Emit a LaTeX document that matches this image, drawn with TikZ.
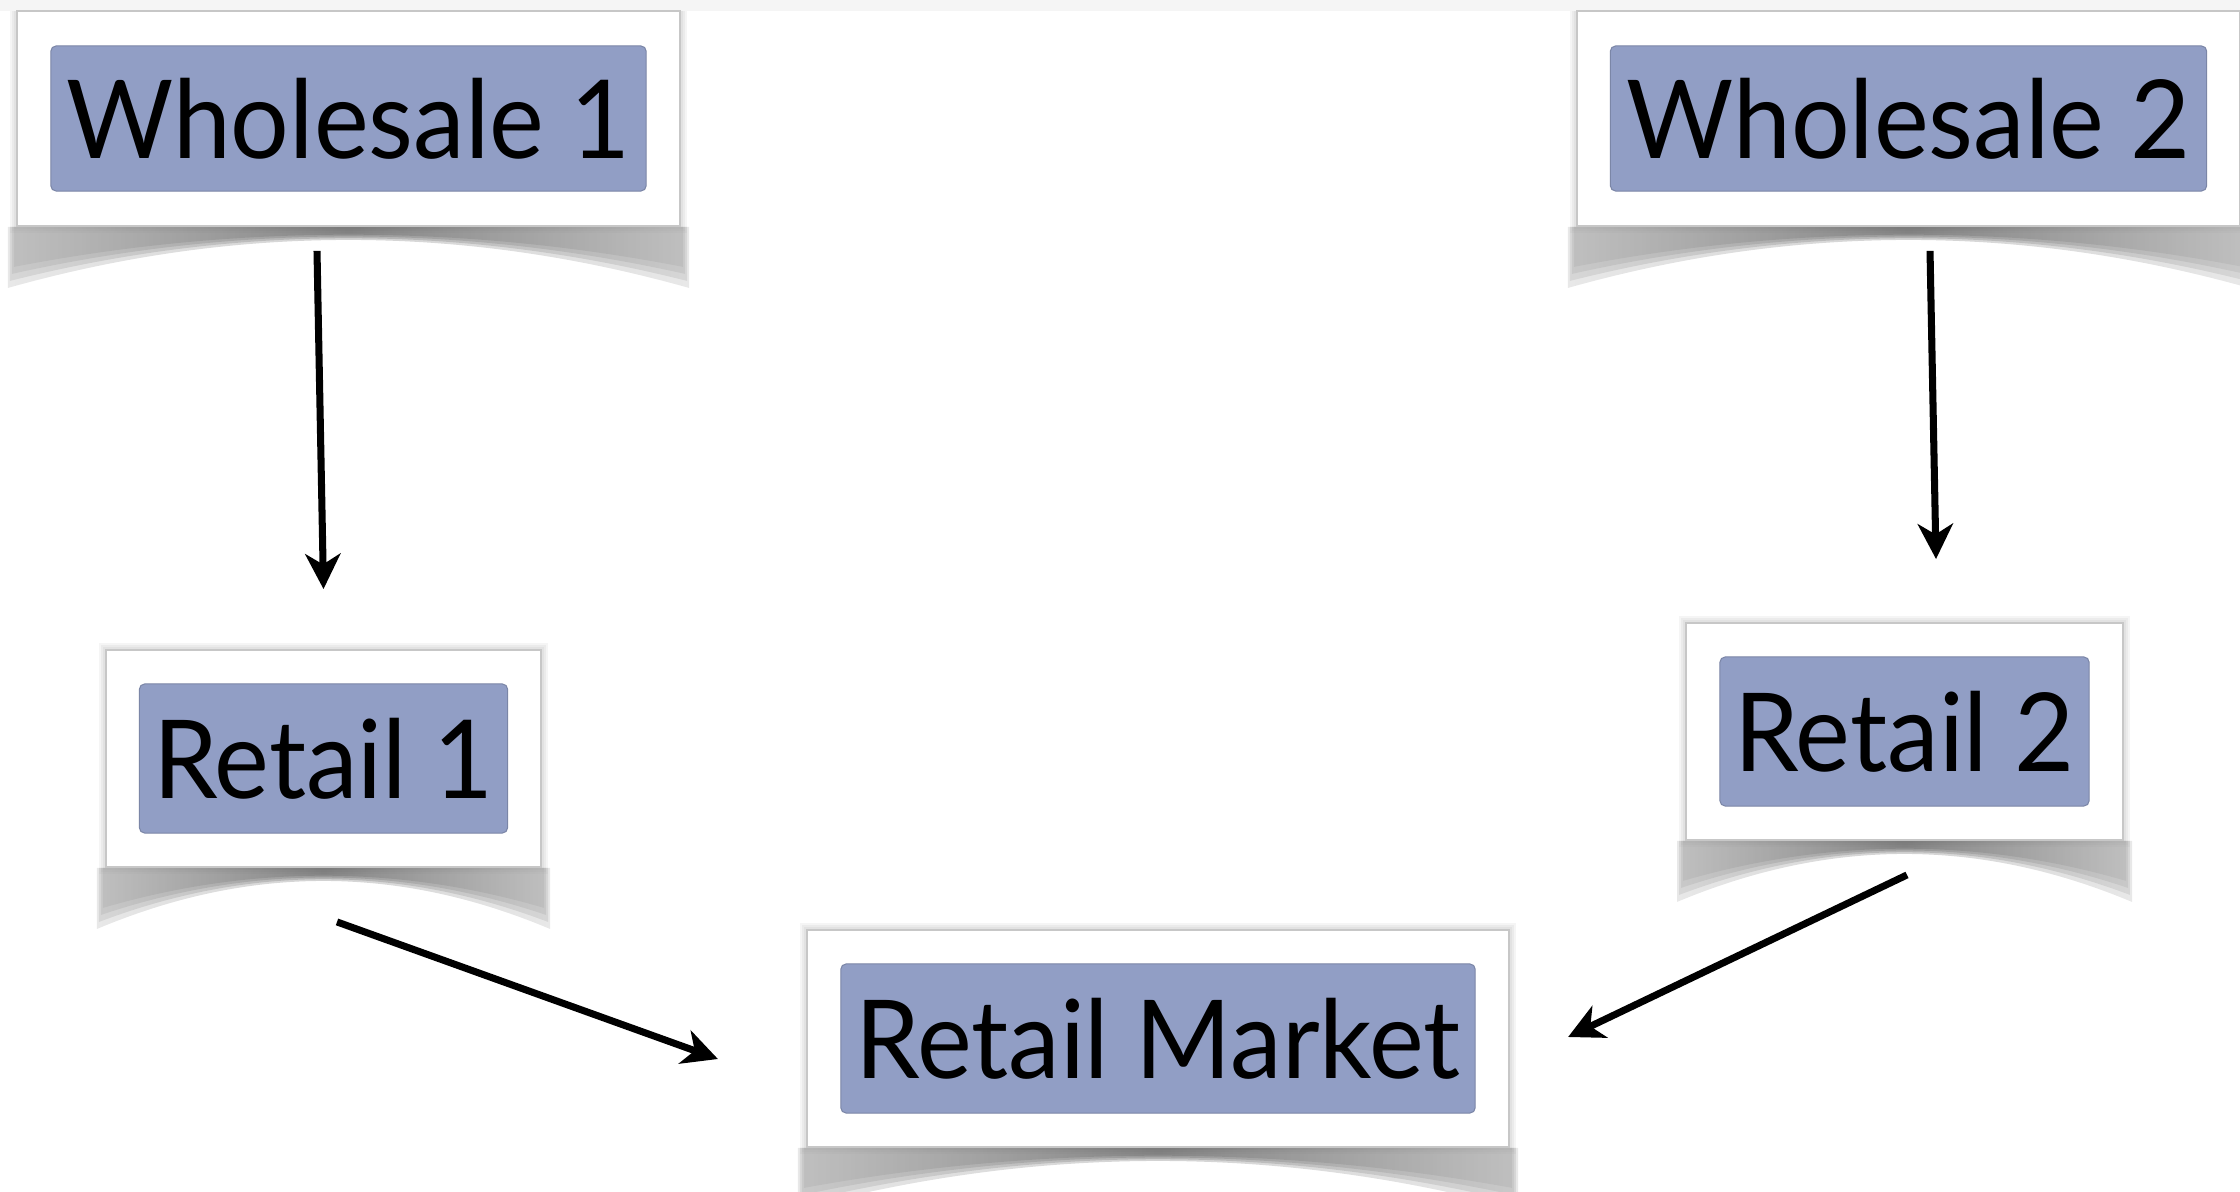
\documentclass[tikz,border=0pt]{standalone}
\usepackage{fontspec}
\setmainfont{Lato}[FakeStretch=0.95]
\usetikzlibrary{positioning}
\usetikzlibrary{calc}
\usetikzlibrary{arrows.meta}
\definecolor{boxblue}{RGB}{145,158,197}
\pgfdeclarelayer{background}
\pgfsetlayers{background,main}
\tikzset{frame node/.style={shape=rectangle,
    draw=black!22, line width=0.5pt, fill=white, inner sep=0pt},
  label node/.style={shape=rectangle,
    fill=boxblue, draw=boxblue!85!black, line width=0.3pt,
    rounded corners=1.5pt, inner sep=0pt,
    font=\fontsize{31}{37}\selectfont},
  flow/.style={line width=2pt, -{Stealth[length=10pt,width=10pt,inset=3pt]}}}
% curled shadow under a frame, soft halo round it
\newcommand{\curlshadow}[1]{%
  \foreach \s in {2,4,6}
    \fill[black, opacity=.04] ($(#1.south west)+(-\s,\s)$) rectangle ($(#1.north east)+(\s,-\s)$);
  \foreach \d/\e in {40/2,47/4,54/6,61/8}
    \shade[left color=black!36, right color=black!36, middle color=black!70, opacity=.25]
      ($(#1.south west)+(-\e,0)$) -- ($(#1.south east)+(\e,0)$)
      -- ($(#1.south east)+(\e,\d)$)
      .. controls ($(#1.south east)!.33!(#1.south west)+(0,-3)$)
      and ($(#1.south east)!.67!(#1.south west)+(0,-3)$)
      .. ($(#1.south west)+(-\e,\d)$) -- cycle;}

\begin{document}
\begin{tikzpicture}[x=0.01cm,y=-0.01cm]
    \useasboundingbox (0,0) rectangle (2240,1192);
    \fill[black!4] (0,0) rectangle (2240,11);

    \node[frame node, minimum width=6.63cm, minimum height=2.15cm] (1) at (348.5,118.5) {};
    \node[label node, minimum width=5.95cm, minimum height=1.45cm] (1t) at (1) {Wholesale 1};

    \node[frame node, minimum width=6.63cm, minimum height=2.15cm] (2) at (1908.5,118.5) {};
    \node[label node, minimum width=5.96cm, minimum height=1.45cm] (2t) at (2) {Wholesale 2};

    \node[frame node, minimum width=4.35cm, minimum height=2.17cm] (3) at (323.5,758.5) {};
    \node[label node, minimum width=3.68cm, minimum height=1.49cm] (3t) at (3) {Retail 1};

    \node[frame node, minimum width=4.37cm, minimum height=2.17cm] (4) at (1904.5,731.5) {};
    \node[label node, minimum width=3.69cm, minimum height=1.49cm] (4t) at (4) {Retail 2};

    \node[frame node, minimum width=7.02cm, minimum height=2.17cm] (5) at (1158,1038.5) {};
    \node[label node, minimum width=6.34cm, minimum height=1.49cm] (5t) at (5) {Retail Market};

    \begin{pgfonlayer}{background}
    \curlshadow{1}
    \curlshadow{2}
    \curlshadow{3}
    \curlshadow{4}
    \curlshadow{5}
    \end{pgfonlayer}

    \coordinate (1out) at ($(1.south)+(-31.5,24)$);
    \coordinate (3in) at ($(3.north)+(0,-60)$);
    \coordinate (2out) at ($(2.south)+(21.5,24)$);
    \coordinate (4in) at ($(4.north)+(31.5,-63)$);
    \coordinate (3out) at ($(3.south)+(13.5,54)$);
    \coordinate (5inl) at ($(5.west)+(-88,20.5)$);
    \coordinate (4out) at ($(4.south)+(2.5,34)$);
    \coordinate (5inr) at ($(5.east)+(58,-1.5)$);

    \path[flow]
    (1out) edge (3in)
    (2out) edge (4in)
    (3out) edge (5inl)
    (4out) edge (5inr)
    ;
\end{tikzpicture}
\end{document}
